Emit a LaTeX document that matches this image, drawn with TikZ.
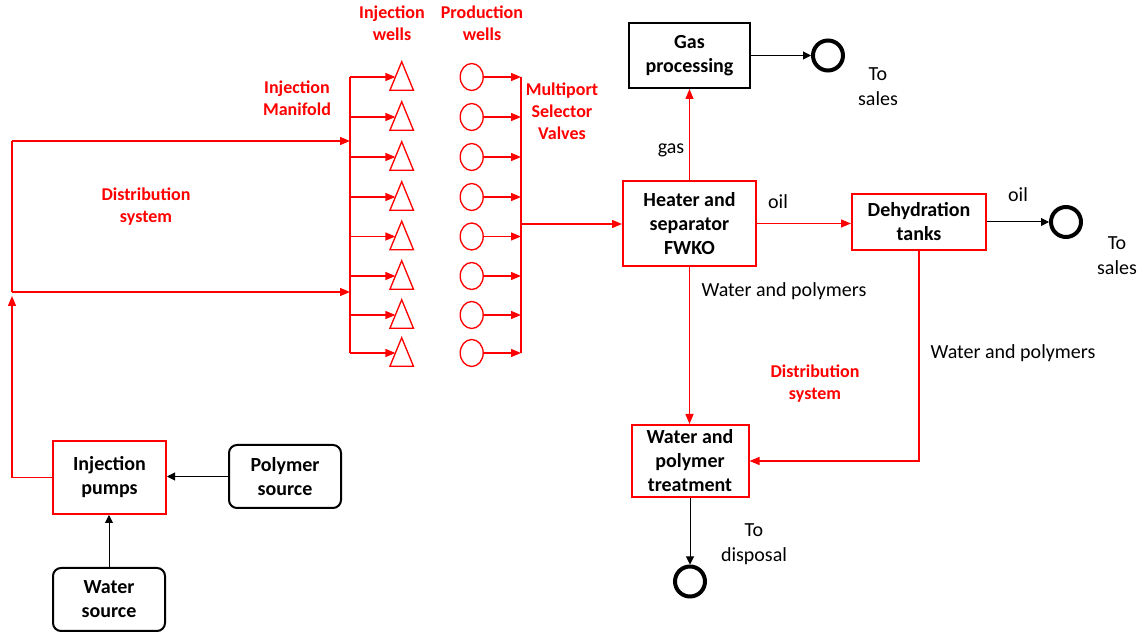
\documentclass[tikz,border=0pt]{standalone}
\usepackage{fontspec}
\setmainfont{Carlito}
\usetikzlibrary{arrows.meta,shapes.geometric,calc}
\newcommand{\boxfont}{\fontsize{15}{18}\selectfont\bfseries}
\newcommand{\redfont}{\fontsize{13.5}{16.5}\selectfont\bfseries}
\newcommand{\txtfont}{\fontsize{15}{18.75}\selectfont}
\begin{document}
\begin{tikzpicture}[x=0.75pt,y=-0.75pt,
  redline/.style={draw=red, line width=1pt},
  blkline/.style={draw=black, line width=0.75pt},
  redarrow/.style={redline,-{Triangle[length=7.5pt,width=6pt]}},
  blkarrow/.style={blkline,-{Triangle[length=6pt,width=6pt]}},
  redbox/.style={draw=red, line width=1.5pt, align=center, font=\boxfont, inner sep=0pt},
  blkbox/.style={draw=black, line width=1.5pt, align=center, font=\boxfont, inner sep=0pt},
  srcbox/.style={blkbox, rounded corners=6pt},
  redlabel/.style={text=red, align=center, font=\redfont, inner sep=0pt},
  txtlabel/.style={text=black, align=center, font=\txtfont, inner sep=0pt},
  term/.style={circle, draw=black, line width=3pt, minimum size=22.5pt, inner sep=0pt},
  injwell/.style={rectangle, draw=none, minimum width=17.25pt, minimum height=21pt, inner sep=0pt},
  wellshape/.style={draw=red, line width=1pt, line join=miter},
  prodwell/.style={ellipse, draw=red, line width=1pt, minimum width=17.25pt, minimum height=20.25pt, inner sep=0pt}
]
\useasboundingbox (0,0) rectangle (1140,634);

% boxes
\node[blkbox, minimum width=90.75pt, minimum height=48.75pt] (gas) at (689.5,55.5) {Gas\\processing};
\node[redbox, minimum width=99.75pt, minimum height=63.75pt] (heater) at (689.5,223.5) {Heater and\\separator\\FWKO};
\node[redbox, minimum width=100.5pt, minimum height=42pt] (dehyd) at (919,222) {Dehydration\\tanks};
\node[redbox, minimum width=87.75pt, minimum height=54pt] (treat) at (690,461) {Water and\\polymer\\treatment};
\node[redbox, minimum width=84.75pt, minimum height=54.75pt] (pumps) at (109.5,477.5) {Injection\\pumps};
\node[srcbox, minimum width=84pt, minimum height=47.25pt] (polymer) at (285,476.5) {Polymer\\source};
\node[srcbox, minimum width=84pt, minimum height=47.25pt] (water) at (109,599.5) {Water\\source};

% terminals
\node[term] (gasterm) at (828,55.5) {};
\node[term] (oilterm) at (1066,222) {};
\node[term] (dispterm) at (690,581.5) {};

% labels
\node[redlabel] (lblinj) at (392,23) {Injection\\wells};
\node[redlabel] (lblprod) at (482,23) {Production\\wells};
\node[redlabel] (lblman) at (297,98) {Injection\\Manifold};
\node[redlabel] (lblmsv) at (562,111) {Multiport\\Selector\\Valves};
\node[redlabel] (lbldist1) at (146,207) {Distribution\\system};
\node[redlabel] (lbldist2) at (815,384) {Distribution\\system};
\node[txtlabel] (lblgas) at (671,150) {gas};
\node[txtlabel] (lbloil1) at (778,202) {oil};
\node[txtlabel] (lbloil2) at (1018,195) {oil};
\node[txtlabel] (lblsales1) at (878,87) {To\\sales};
\node[txtlabel] (lblsales2) at (1117,256) {To\\sales};
\node[txtlabel] (lblwp1) at (784,291) {Water and polymers};
\node[txtlabel] (lblwp2) at (1013,353) {Water and polymers};
\node[txtlabel] (lbldisp) at (754,544) {To\\disposal};

% manifold and collector
\coordinate (mtop) at (350,77);
\coordinate (mbot) at (350,353);
\coordinate (ctop) at (521,77);
\coordinate (cbot) at (521,353);
\coordinate (cout) at (521,224);
\draw[redline] (mtop) -- (mbot);
\draw[redline] (ctop) -- (cbot);
\foreach \i/\y in {1/77,2/117,3/157,4/197,5/236.5,6/276,7/315,8/353}{
  \node[injwell] (iw\i) at (401.7,\y-1) {};
  \draw[wellshape] (iw\i.south west) -- (iw\i.south east) -- (iw\i.north) -- cycle;
  \coordinate (ie\i) at ($(iw\i.south west)!0.464!(iw\i.north)$);
  \node[prodwell] (pw\i) at (471.7,\y) {};
  \coordinate (mb\i) at (350,\y);
  \coordinate (cb\i) at (521,\y);
  \draw[redarrow] (mb\i) -- (mb\i -| ie\i);
  \draw[redarrow] (pw\i) -- (cb\i);
}
\draw[redarrow] (cout) -- (cout -| heater.west);

% distribution loop
\coordinate (lup) at (12,296);
\coordinate (lbot) at (12,292);
\coordinate (ltop) at (12,141);
\coordinate (mup) at (350,141);
\coordinate (mlow) at (350,292);
\draw[redarrow] (pumps.west) -| (lup);
\draw[redline] (lbot) -- (ltop);
\draw[redarrow] (ltop) -- (mup);
\draw[redarrow] (lbot) -- (mlow);

% process connectors
\draw[redarrow] (heater.north) -- (heater.north |- gas.south);
\draw[redarrow] (heater.east) -- (heater.east -| dehyd.west);
\draw[redarrow] (heater.south) -- (heater.south |- treat.north);
\draw[redarrow] (dehyd.south) |- (treat.east);
\draw[blkarrow] (gas.east) -- (gasterm);
\draw[blkarrow] (dehyd.east) -- (oilterm);
\draw[blkarrow] (treat.south) -- (dispterm);
\draw[blkarrow] (polymer.west) -- (polymer.west -| pumps.east);
\draw[blkarrow] (water.north) -- (water.north |- pumps.south);
\end{tikzpicture}
\end{document}
